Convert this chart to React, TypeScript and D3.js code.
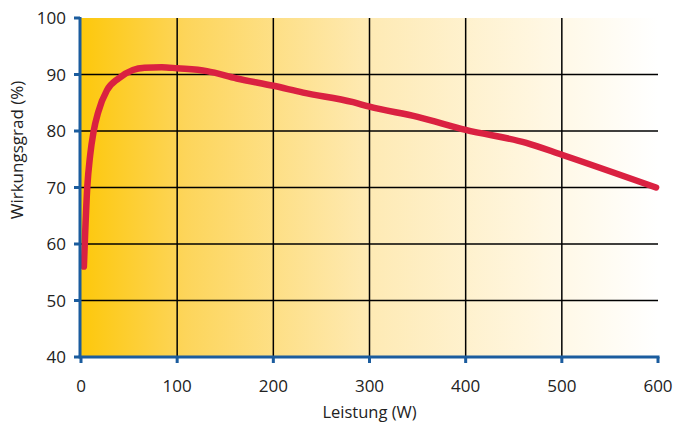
import React from "react";
import * as d3 from "d3";

// Wirkungsgrad über Leistung
const leistung = [3, 6.5, 9.5, 13, 18, 27, 39, 54, 66, 84, 100, 131, 162, 200, 231, 283, 300, 350, 400, 463, 500, 598];
const wirkungsgrad = [56, 70, 75.7, 79.8, 83.4, 87.2, 89.3, 90.8, 91.2, 91.3, 91.1, 90.6, 89.3, 88, 86.8, 85.1, 84.3, 82.5, 80.2, 77.9, 75.8, 70];

const xTicks = [0, 100, 200, 300, 400, 500, 600];
const yTicks = [40, 50, 60, 70, 80, 90, 100];

const W = 673;
const H = 423;
const margin = { top: 18, right: 15, bottom: 66, left: 81 };
const axisBlue = "#1b5c9e";
const font = "'Open Sans', 'Noto Sans', sans-serif";

export default function App() {
    const width = W - margin.left - margin.right;
    const height = H - margin.top - margin.bottom;

    const xScale = d3.scaleLinear().domain([0, 600]).range([0, width]);
    const yScale = d3.scaleLinear().domain([40, 100]).range([height, 0]);

    const points = leistung.map((x, i) => [x, wirkungsgrad[i]] as [number, number]);
    const line = d3
        .line<[number, number]>()
        .x((d) => xScale(d[0]))
        .y((d) => yScale(d[1]))
        .curve(d3.curveMonotoneX);

    return (
        <svg
            width={W}
            height={H}
            style={{ position: "absolute", left: 0, top: 0, background: "#fff" }}
        >
            <defs>
                <linearGradient id="bg" x1="0" x2="1" y1="0" y2="0">
                    <stop offset="0%" stopColor="#fdc80c" />
                    <stop offset="18%" stopColor="#fdd55a" />
                    <stop offset="50%" stopColor="#feeab4" />
                    <stop offset="80%" stopColor="#fff7e2" />
                    <stop offset="100%" stopColor="#ffffff" />
                </linearGradient>
            </defs>
            <g transform={`translate(${margin.left}, ${margin.top})`}>
                <rect x={0} y={0} width={width} height={height} fill="url(#bg)" />

                {/* grid */}
                {yTicks.filter((t) => t > 40 && t < 100).map((t) => (
                    <line
                        key={"gy" + t}
                        x1={0}
                        x2={width}
                        y1={yScale(t)}
                        y2={yScale(t)}
                        stroke="#000"
                        strokeWidth={1.5}
                    />
                ))}
                {xTicks.filter((t) => t > 0 && t < 600).map((t) => (
                    <line
                        key={"gx" + t}
                        x1={xScale(t)}
                        x2={xScale(t)}
                        y1={0}
                        y2={height}
                        stroke="#000"
                        strokeWidth={1.5}
                    />
                ))}

                {/* curve */}
                <path
                    d={line(points) || ""}
                    fill="none"
                    stroke="#da2141"
                    strokeWidth={6.5}
                    strokeLinecap="round"
                    strokeLinejoin="round"
                />

                {/* axes */}
                <line x1={-1} x2={-1} y1={-1} y2={height + 1} stroke={axisBlue} strokeWidth={3} />
                <line x1={-2.5} x2={width + 1.5} y1={height} y2={height} stroke={axisBlue} strokeWidth={3} />
                {yTicks.map((t) => (
                    <g key={"ty" + t}>
                        <line x1={-7} x2={-1} y1={yScale(t)} y2={yScale(t)} stroke={axisBlue} strokeWidth={3} />
                        <text
                            x={-15}
                            y={yScale(t)}
                            dy="0.36em"
                            textAnchor="end"
                            fontFamily={font}
                            fontSize={17}
                            fill="#222"
                        >
                            {t}
                        </text>
                    </g>
                ))}
                {xTicks.map((t) => (
                    <g key={"tx" + t}>
                        <line x1={xScale(t)} x2={xScale(t)} y1={height} y2={height + 6} stroke={axisBlue} strokeWidth={3} />
                        <text
                            x={xScale(t)}
                            y={height + 35}
                            textAnchor="middle"
                            fontFamily={font}
                            fontSize={17}
                            fill="#222"
                        >
                            {t}
                        </text>
                    </g>
                ))}

                <text
                    x={width / 2}
                    y={height + 61}
                    textAnchor="middle"
                    fontFamily={font}
                    fontSize={16.5}
                    fill="#222"
                >
                    Leistung (W)
                </text>
                <text
                    transform={`translate(${-58}, ${132}) rotate(-90)`}
                    textAnchor="middle"
                    fontFamily={font}
                    fontSize={17}
                    fill="#222"
                >
                    Wirkungsgrad (%)
                </text>
            </g>
        </svg>
    );
}
